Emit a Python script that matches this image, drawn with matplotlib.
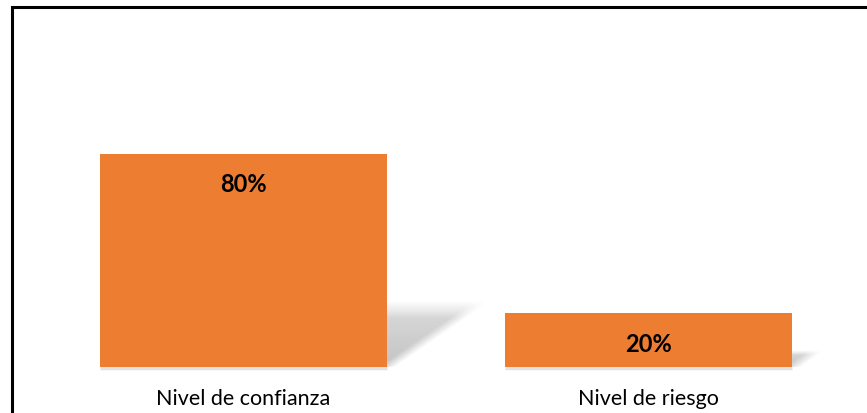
import matplotlib
matplotlib.use('Agg')
import matplotlib.pyplot as plt
from matplotlib.patches import Rectangle
import numpy as np

categories = ['Nivel de confianza', 'Nivel de riesgo']
values = [0.80, 0.20]
value_labels = ['80%', '20%']

W, H = 867, 414
fig = plt.figure(figsize=(W / 100, H / 100), dpi=100)

# outer frame (runs off the right and bottom edges like the reference)
fig.patches.append(Rectangle((12 / W, -0.05), 1.0, (H - 7.5) / H + 0.05,
                             transform=fig.transFigure, fill=False,
                             edgecolor='black', linewidth=2.2, zorder=10))

# plot area: baseline at y=367.5px, 100% at y=101.5px
ax = fig.add_axes([41 / W, (H - 367.5) / H, 810 / W, 266 / H])
ax.axis('off')

bar_w = 0.709
orange = '#ED7D31'
x = np.arange(len(categories))

# perspective shadows behind the bars
for xi, v in zip(x, values):
    sh_h = v * 0.27
    shift = (v * 266 * 0.39) / 405
    left, right = xi - bar_w / 2, xi + bar_w / 2
    x0, x1 = left, right + shift + 0.06
    y0, y1 = 0, sh_h * 1.25
    nx, ny = 300, 120
    gx, gy = np.meshgrid(np.linspace(x0, x1, nx), np.linspace(y0, y1, ny))
    s = gy / sh_h
    u = gx - shift * s
    soft_x = 0.04
    fx = np.clip((right - u) / soft_x + 0.5, 0, 1) * np.clip((u - left) / soft_x + 0.5, 0, 1)
    fy = np.clip((1 - s) / 0.3 + 0.5, 0, 1)
    a = fx * fy * (1 - 0.35 * np.clip(s, 0, 1)) * 0.42
    img = np.zeros((ny, nx, 4))
    img[..., :3] = 0.45
    img[..., 3] = np.clip(a, 0, 1)
    ax.imshow(img, extent=(x0, x1, y0, y1), origin='lower', aspect='auto',
              zorder=1, interpolation='bilinear')
    ax.plot([left, right], [-0.005, -0.005], color='#e2e2e2', lw=2.5, zorder=1,
            solid_capstyle='butt', clip_on=False)

ax.set_xlim(-0.5, 1.5)
ax.set_ylim(0, 1)

bars = ax.bar(x, values, width=bar_w, color=orange, zorder=2)

for b, lab in zip(bars, value_labels):
    ax.annotate(lab, (b.get_x() + b.get_width() / 2, b.get_height()),
                xytext=(0, -29 * 0.75), textcoords='offset points',
                ha='center', va='center', fontsize=17, fontweight='bold',
                family='Lato', color='black', zorder=3)

for xi, cat in zip(x, categories):
    ax.annotate(cat, (xi, 0), xytext=(0, -30.5 * 0.75), textcoords='offset points',
                ha='center', va='center', fontsize=15.5, family='Lato',
                color='black', annotation_clip=False)

fig.savefig('out.png', dpi=100)
